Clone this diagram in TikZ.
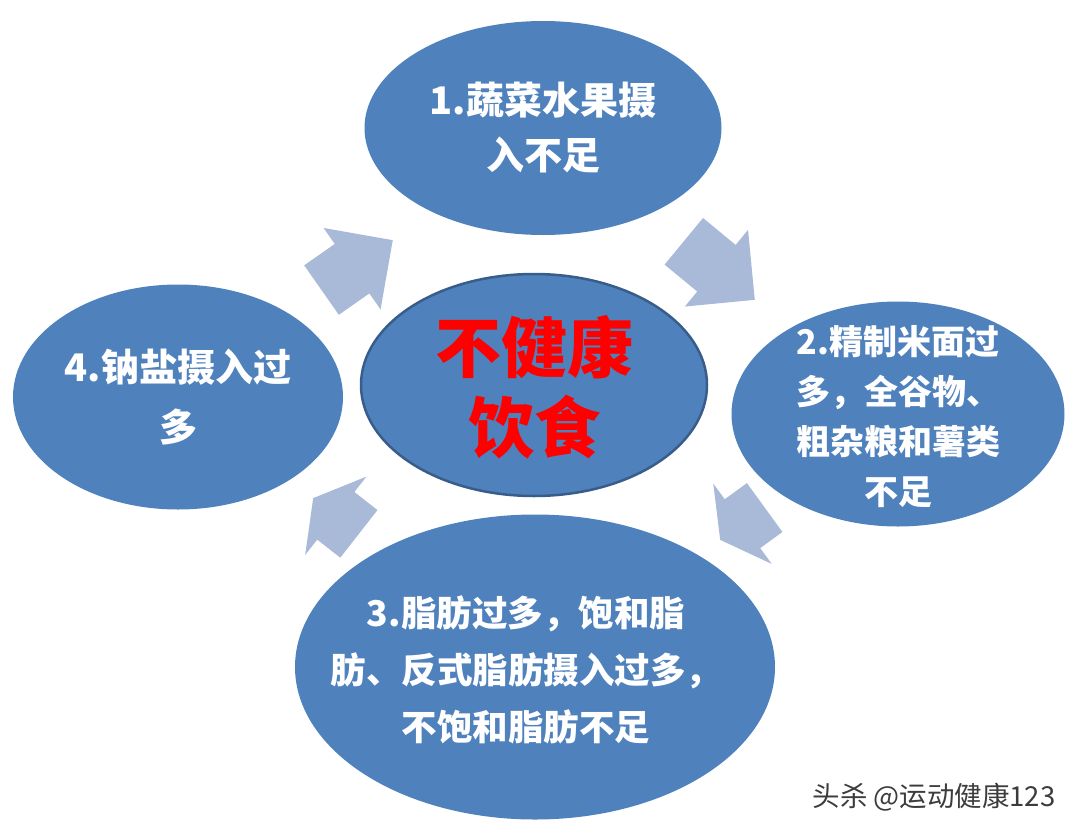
\documentclass[tikz,border=0pt]{standalone}
\usepackage{fontspec}
\setmainfont{Noto Sans CJK SC}
\usetikzlibrary{shapes.geometric, shapes.arrows, positioning}
\definecolor{bubbleblue}{RGB}{79,129,189}
\definecolor{rimblue}{RGB}{56,93,138}
\definecolor{arrowblue}{RGB}{168,186,216}
\definecolor{markgray}{RGB}{60,60,60}
\tikzset{
    x=1pt, y=-1pt, % pixel coordinates, y runs downwards
    bubble/.style={ellipse, fill=bubbleblue, inner sep=0pt}, % sets the look of every 'bubble'
    bubbletext/.style={text=white, align=center, inner sep=0pt},
    roundarrow/.style={single arrow, fill=arrowblue, inner xsep=0pt, inner ysep=30pt,
        single arrow head extend=19.5pt, single arrow tip angle=90}, % the block arrows between the bubbles
}

\begin{document}
\begin{tikzpicture}
        \useasboundingbox (0,0) rectangle (1080,836);

        \node[bubble, minimum width=357, minimum height=214] (c1) at (543,128) {};
        \node[bubble, minimum width=333, minimum height=225] (c2) at (898,414) {};
        \node[bubble, minimum width=480, minimum height=305] (c3) at (535,667) {};
        \node[bubble, minimum width=330, minimum height=225] (c4) at (178,397) {};
        \node[bubble, draw=rimblue, line width=2.5pt, minimum width=346, minimum height=222] (c0) at (534,385) {};

        \node[bubbletext, font=\fontsize{38}{55}\selectfont\bfseries] (c1-text) at (c1) {1.蔬菜水果摄\\入不足};
        \node[bubbletext, font=\fontsize{34}{50}\selectfont\bfseries] (c2-text) at ([yshift=-3]c2.center) {2.精制米面过\\多，全谷物、\\粗杂粮和薯类\\不足};
        \node[bubbletext, font=\fontsize{35.5}{57}\selectfont\bfseries] (c3-text) at ([xshift=-9, yshift=-3]c3.center) {3.脂肪过多，饱和脂\\肪、反式脂肪摄入过多，\\不饱和脂肪不足};
        \node[bubbletext, font=\fontsize{38}{60}\selectfont\bfseries] (c4-text) at (c4) {4.钠盐摄入过\\多};
        \node[bubbletext, text=red, font=\fontsize{66}{80}\selectfont\bfseries] (c0-text) at ([yshift=-2]c0.center) {不健康\\饮食};

        \node[roundarrow, minimum height=87, rotate=35, anchor=tip] (a41) at (393,240) {};
        \node[roundarrow, minimum height=92, rotate=-39.5, anchor=tip] (a12) at (755,300) {};
        \node[roundarrow, minimum height=55, single arrow tip angle=122, rotate=216, anchor=tip] (a23) at (720,540) {};
        \node[roundarrow, minimum height=58, single arrow tip angle=120, rotate=142, anchor=tip] (a34) at (313,498) {};

        \node[text=markgray, inner sep=0pt, font=\fontsize{27.5}{27.5}\selectfont] (mark) at (934,797) {头杀 @运动健康123};

    \end{tikzpicture}
\end{document}
